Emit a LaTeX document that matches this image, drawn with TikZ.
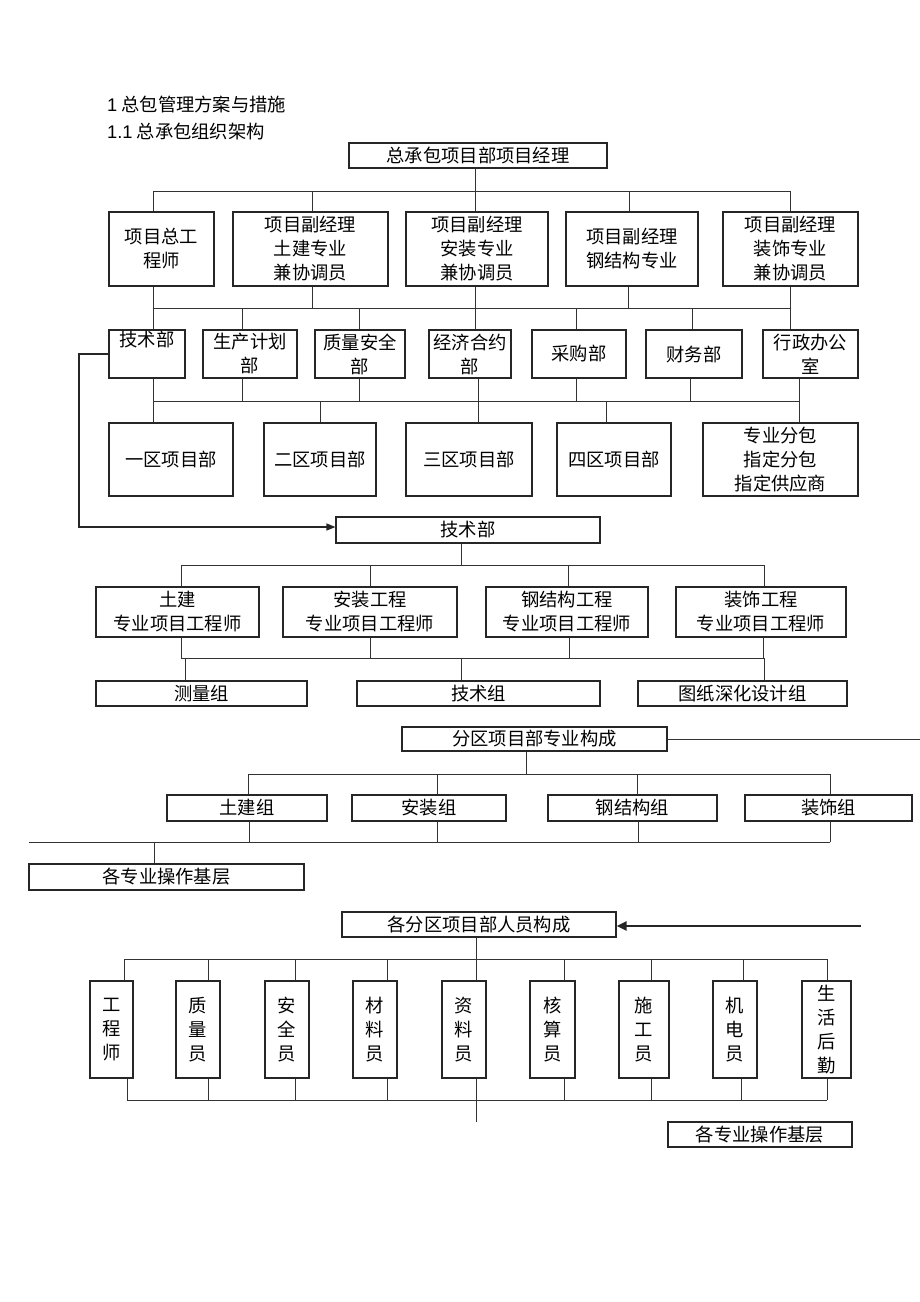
\documentclass[tikz,border=0pt]{standalone}
\usepackage{fontspec}
\setmainfont{Noto Sans CJK SC}
\newfontfamily\latinf{Liberation Sans}
\usetikzlibrary{arrows.meta}
\tikzset{
  bx/.style={draw=black!85, line width=1.1pt, inner sep=0pt, align=center, font=\fontsize{18.3pt}{24pt}\selectfont},
  ln/.style={draw=black!80, line width=0.9pt},
  ttl/.style={anchor=west, inner sep=0pt, font=\fontsize{18.3pt}{21pt}\selectfont},
  fb/.style={draw=black!85, line width=1.3pt, -{Triangle[length=9pt,width=7pt]}},
  fbthick/.style={draw=black!85, line width=2.4pt, -{Triangle[length=10pt,width=9pt]}}
}
\newcommand\bx[6]{\node[bx, minimum width={#4-#2}, minimum height={#5-#3}] (#1) at ({(#2+#4)/2},{(#3+#5)/2}) {#6};}
\begin{document}
\begin{tikzpicture}[x=1pt,y=-1pt]
\useasboundingbox (0,0) rectangle (920,1302);
% titles
\node[ttl] (t1) at (107,105) {{\latinf 1} 总包管理方案与措施};
\node[ttl] (t2) at (107,132) {{\latinf 1.1} 总承包组织架构};
% top
\bx{T}{349}{143}{607}{168}{总承包项目部项目经理}
\bx{A1}{109}{212}{214}{286}{项目总工\\程师}
\bx{A2}{233}{212}{388}{286}{项目副经理\\土建专业\\兼协调员}
\bx{A3}{406}{212}{548}{286}{项目副经理\\安装专业\\兼协调员}
\bx{A4}{566}{212}{698}{286}{项目副经理\\钢结构专业}
\bx{A5}{723}{212}{858}{286}{项目副经理\\装饰专业\\兼协调员}
\draw[ln] (475,0 |- T.south) -- (475,191);
\draw[ln] (153,0 |- A1.north) -- (153,191) -- (790,191) -- (790,0 |- A5.north);
\foreach \x/\n in {312/A2,475/A3,629/A4} \draw[ln] (\x,191) -- (\x,0 |- \n.north);
% row 3
\bx{B1}{109}{330}{185}{378}{技术部\\\strut}
\bx{B2}{203}{330}{297}{378}{生产计划\\部}
\bx{B3}{315}{330}{405}{378}{质量安全\\部}
\bx{B4}{429}{330}{511}{378}{经济合约\\部}
\bx{B5}{532}{330}{626}{378}{采购部}
\bx{B6}{646}{330}{742}{378}{财务部}
\bx{B7}{763}{330}{858}{378}{行政办公\\室}
\foreach \x/\n in {153/A1,312/A2,475/A3,628/A4,790/A5} \draw[ln] (\x,0 |- \n.south) -- (\x,308);
\draw[ln] (153,308) -- (790,308);
\foreach \x/\n in {153/B1,242/B2,359/B3,475/B4,576/B5,692/B6,790/B7} \draw[ln] (\x,308) -- (\x,0 |- \n.north);
% row 4
\bx{C1}{109}{423}{233}{496}{一区项目部}
\bx{C2}{264}{423}{376}{496}{二区项目部}
\bx{C3}{406}{423}{532}{496}{三区项目部}
\bx{C4}{557}{423}{671}{496}{四区项目部}
\bx{C5}{703}{423}{858}{496}{专业分包\\指定分包\\指定供应商}
\foreach \x/\n in {153/B1,242/B2,359/B3,478/B4,576/B5,690/B6,799/B7} \draw[ln] (\x,0 |- \n.south) -- (\x,401);
\draw[ln] (153,401) -- (799,401);
\foreach \x/\n in {153/C1,320/C2,478/C3,606/C4,799/C5} \draw[ln] (\x,401) -- (\x,0 |- \n.north);
% technical department
\bx{D}{336}{517}{600}{543}{技术部}
\draw[fb] (B1.west |- 0,354) -- (79,354) -- (79,527) -- (D.west |- 0,527);
\bx{E1}{96}{587}{259}{637}{土建\\专业项目工程师}
\bx{E2}{283}{587}{457}{637}{安装工程\\专业项目工程师}
\bx{E3}{486}{587}{648}{637}{钢结构工程\\专业项目工程师}
\bx{E4}{676}{587}{846}{637}{装饰工程\\专业项目工程师}
\draw[ln] (461,0 |- D.south) -- (461,565);
\draw[ln] (181,0 |- E1.north) -- (181,565) -- (764,565) -- (764,0 |- E4.north);
\foreach \x/\n in {370/E2,568/E3} \draw[ln] (\x,565) -- (\x,0 |- \n.north);
\bx{F1}{96}{681}{307}{706}{测量组}
\bx{F2}{357}{681}{600}{706}{技术组}
\bx{F3}{638}{681}{847}{706}{图纸深化设计组}
\foreach \x/\n in {181/E1,370/E2,569/E3,763/E4} \draw[ln] (\x,0 |- \n.south) -- (\x,658);
\draw[ln] (181,658) -- (764,658);
\foreach \x/\n in {185/F1,461/F2,764/F3} \draw[ln] (\x,658) -- (\x,0 |- \n.north);
% zone composition
\bx{G}{402}{727}{667}{751}{分区项目部专业构成}
\coordinate (Gr) at (920,739);
\draw[ln] (G.east) -- (Gr);
\bx{H1}{167}{795}{327}{821}{土建组}
\bx{H2}{352}{795}{506}{821}{安装组}
\bx{H3}{548}{795}{717}{821}{钢结构组}
\bx{H4}{745}{795}{912}{821}{装饰组}
\draw[ln] (526,0 |- G.south) -- (526,774);
\draw[ln] (248,0 |- H1.north) -- (248,774) -- (830,774) -- (830,0 |- H4.north);
\foreach \x/\n in {437/H2,637/H3} \draw[ln] (\x,774) -- (\x,0 |- \n.north);
\bx{I}{29}{864}{304}{890}{各专业操作基层}
\foreach \x/\n in {249/H1,437/H2,638/H3,830/H4} \draw[ln] (\x,0 |- \n.south) -- (\x,842);
\coordinate (Il) at (29,842);
\draw[ln] (Il) -- (830,842);
\draw[ln] (154,842) -- (154,0 |- I.north);
% staff composition
\bx{J}{342}{912}{616}{937}{各分区项目部人员构成}
\coordinate (Jr) at (861,926);
\draw[fbthick] (Jr) -- (J.east |- Jr);
\bx{K1}{90}{981}{133}{1078}{工\\程\\师}
\bx{K2}{176}{981}{220}{1078}{质\\量\\员}
\bx{K3}{265}{981}{309}{1078}{安\\全\\员}
\bx{K4}{353}{981}{397}{1078}{材\\料\\员}
\bx{K5}{442}{981}{486}{1078}{资\\料\\员}
\bx{K6}{530}{981}{575}{1078}{核\\算\\员}
\bx{K7}{619}{981}{669}{1078}{施\\工\\员}
\bx{K8}{713}{981}{757}{1078}{机\\电\\员}
\bx{K9}{802}{981}{851}{1078}{生\\活\\后\\勤}
\draw[ln] (476,0 |- J.south) -- (476,0 |- K5.north);
\coordinate (Kend) at (476,1122);
\draw[ln] (476,0 |- K5.south) -- (Kend);
\draw[ln] (124,0 |- K1.north) -- (124,959) -- (827,959) -- (827,0 |- K9.north);
\foreach \x/\n in {208/K2,295/K3,387/K4,564/K6,651/K7,743/K8} \draw[ln] (\x,959) -- (\x,0 |- \n.north);
\foreach \x/\n in {127/K1,208/K2,295/K3,387/K4,564/K6,651/K7,741/K8,827/K9} \draw[ln] (\x,0 |- \n.south) -- (\x,1100);
\draw[ln] (127,1100) -- (827,1100);
\bx{L}{668}{1122}{852}{1147}{各专业操作基层}
\end{tikzpicture}
\end{document}
